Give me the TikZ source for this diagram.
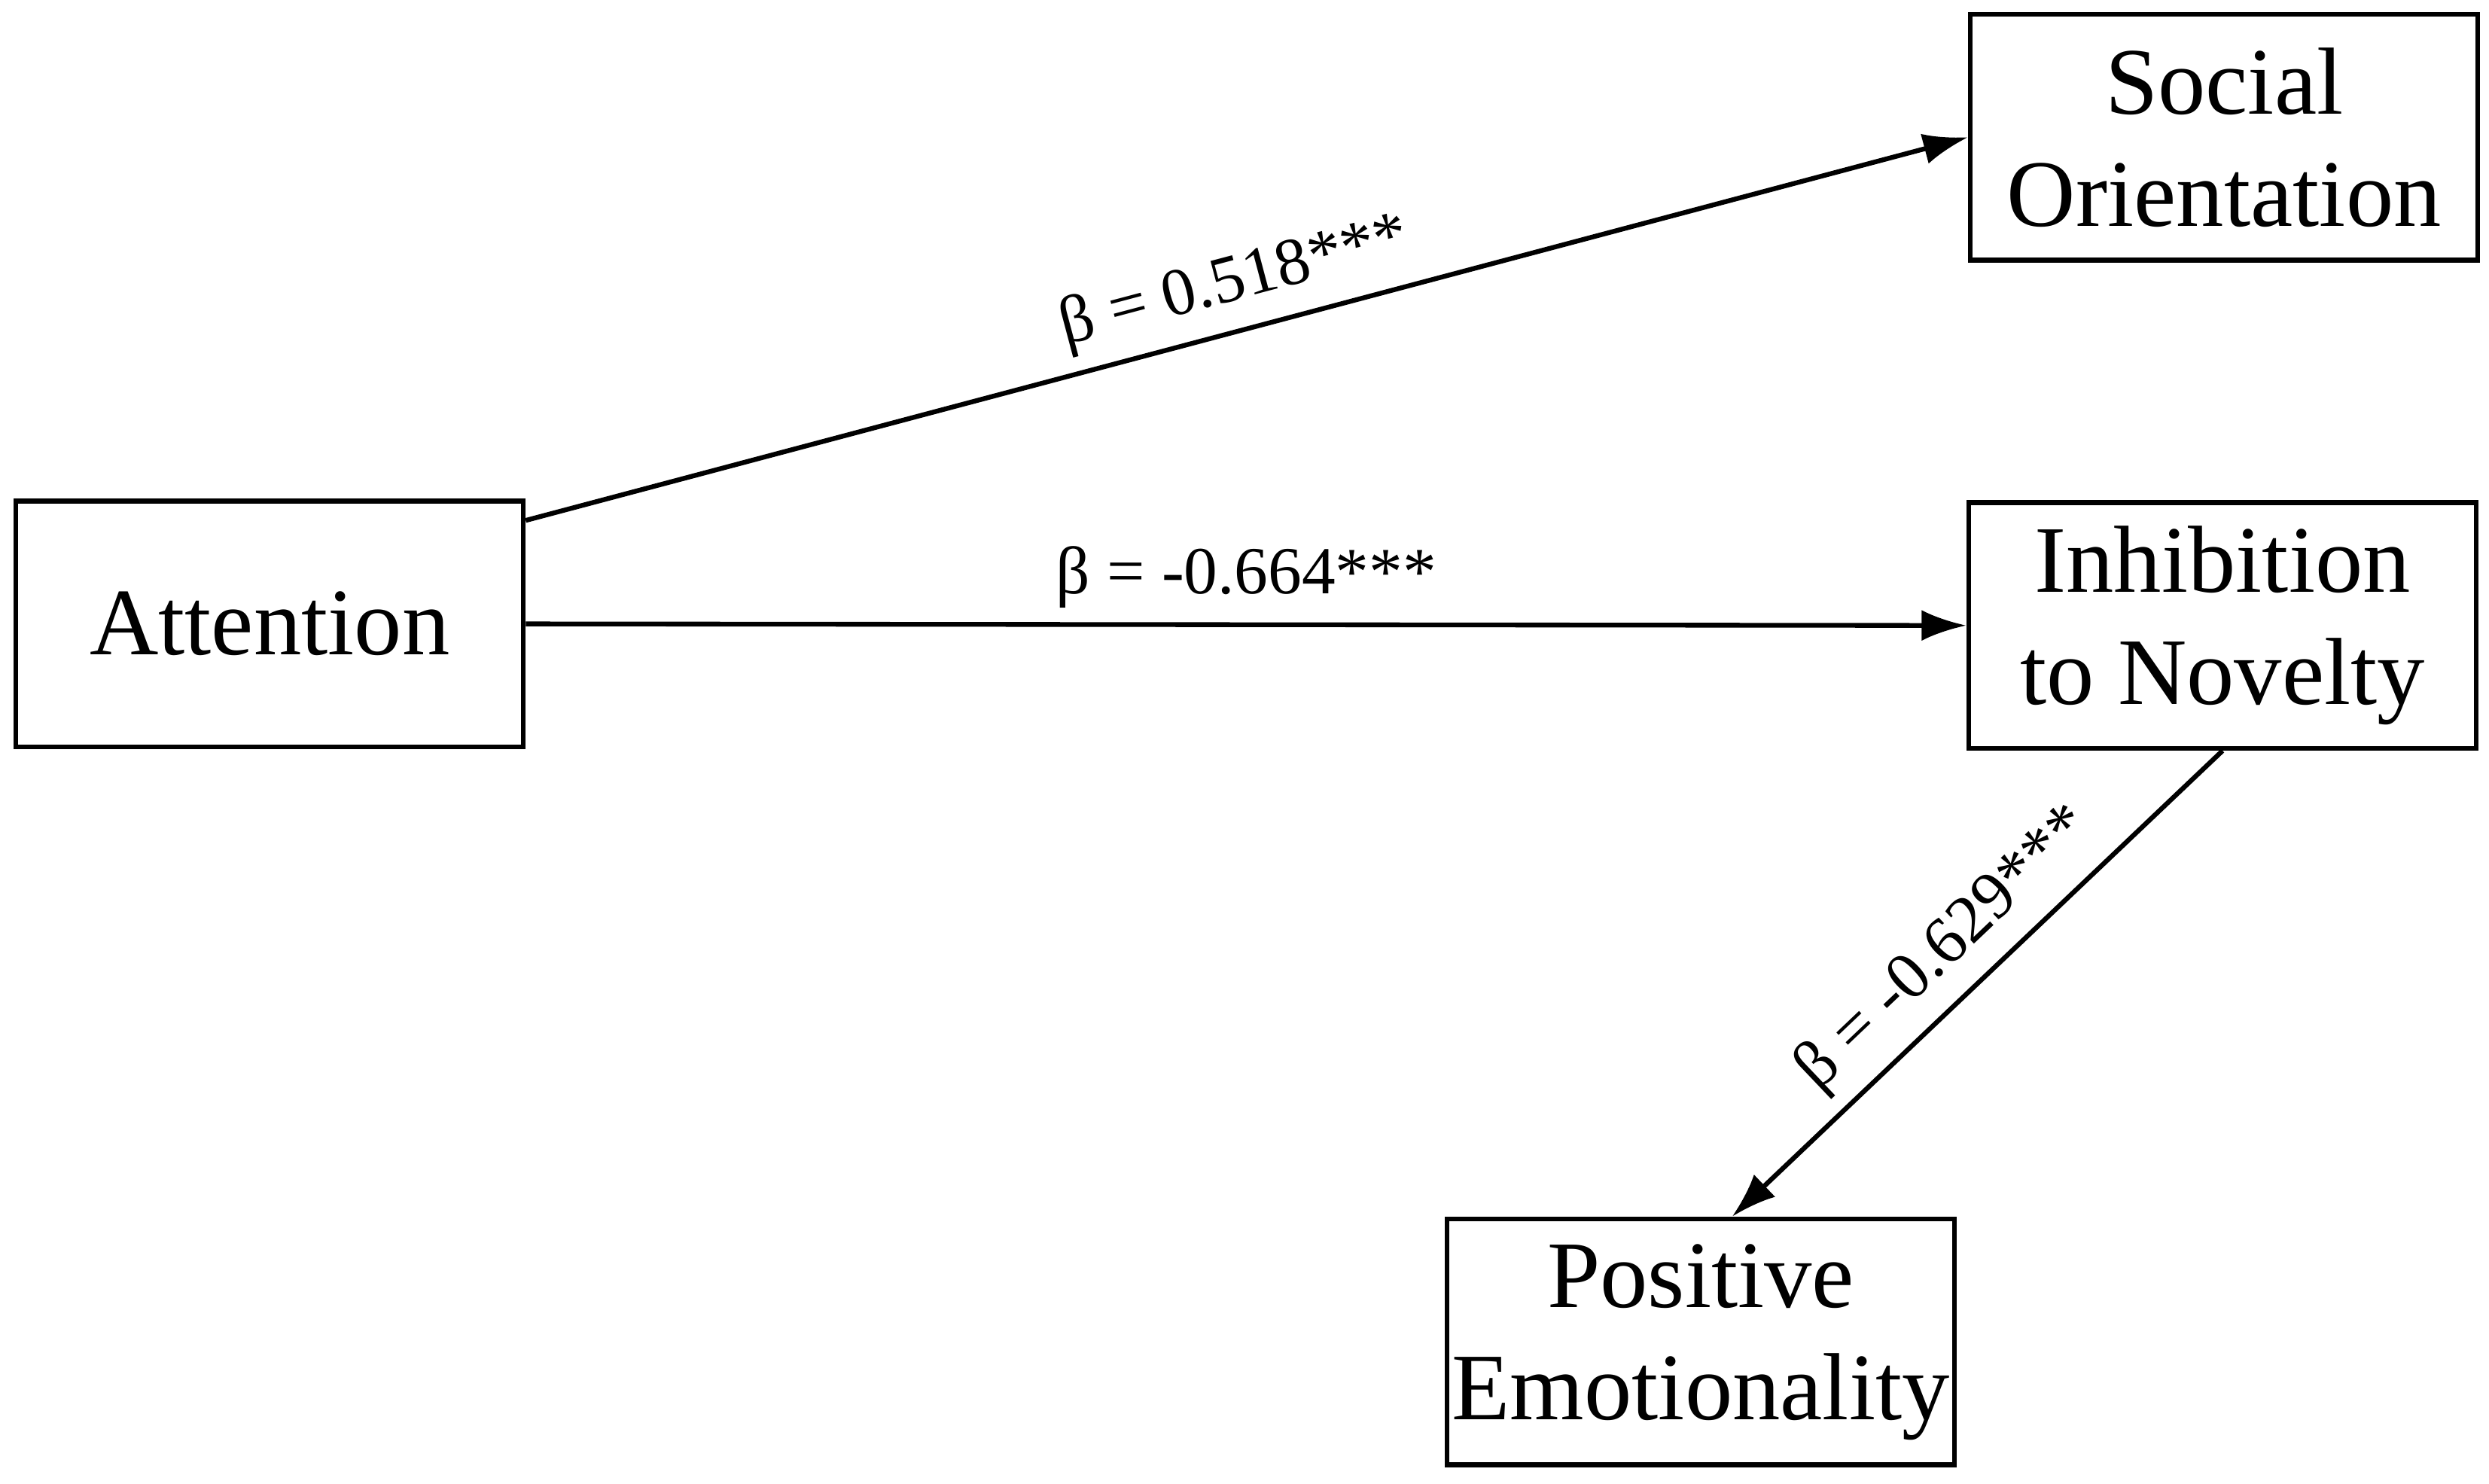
\documentclass[tikz,border=0pt]{standalone}
\usepackage{fontspec}
\setmainfont{Liberation Serif}
\tikzset{
box/.style={draw, line width=1.7pt, minimum width=318*0.02cm, minimum height=154*0.02cm, align=center, font=\fontsize{34}{40}\selectfont, inner sep=0pt},
path/.style={line width=1.7pt, -{Latex[length=16pt,width=11pt]}},
coef/.style={font=\fontsize{24}{28}\selectfont, sloped, above, inner sep=5pt}
}
\usetikzlibrary{arrows.meta}
\begin{document}
\begin{tikzpicture}[x=0.02cm,y=-0.02cm]
\useasboundingbox (0,0) rectangle (1560,930);

\node[box] (attn) at (169,391) {Attention};
\node[box] (soc) at (1394,86) {Social\\Orientation};
\node[box] (inh) at (1393,392) {Inhibition\\to Novelty};
\node[box] (pos) at (1066,841) {Positive\\Emotionality};

\draw[path] (attn.22) -- node[coef] {β = 0.518***} (soc.west);
\draw[path] (attn.east) -- node[coef] {β = -0.664***} (inh.west);
\draw[path] (inh.south) -- node[coef] {β = -0.629***} (pos.76);

\end{tikzpicture}
\end{document}
